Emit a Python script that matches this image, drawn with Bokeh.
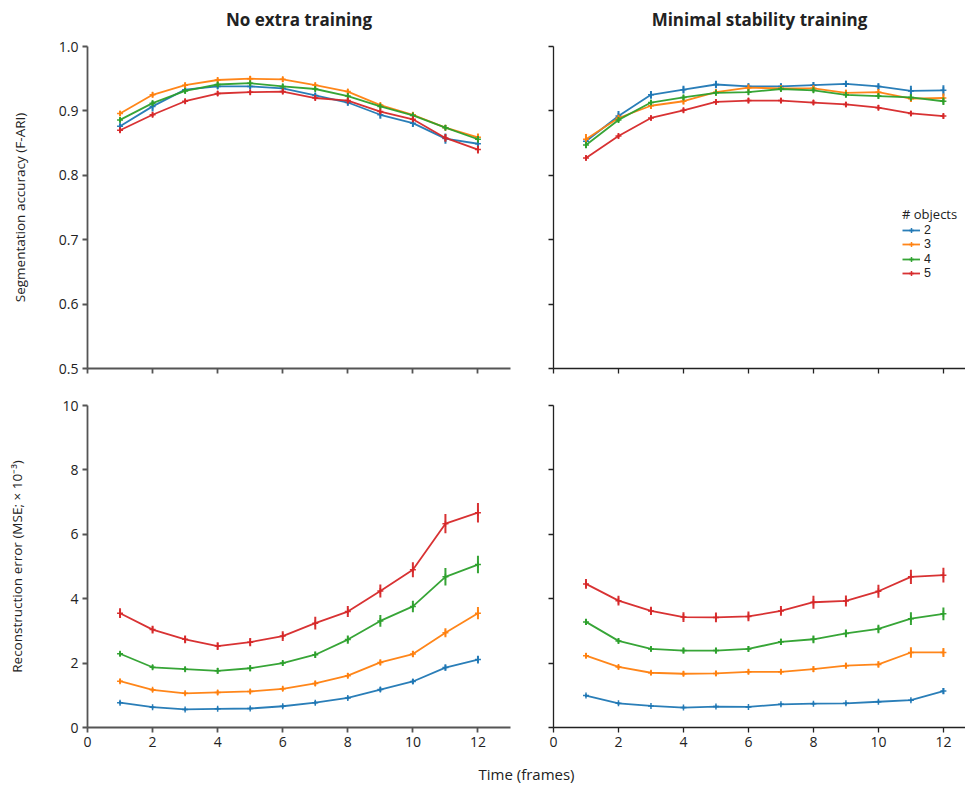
from bokeh.plotting import figure
from bokeh.models import Range1d, FixedTicker, PrintfTickFormatter, Legend, LegendItem, LinearAxis
from bokeh.layouts import column, row
from bokeh.embed import file_html
from bokeh.resources import INLINE

FONT = "Open Sans"
LEGEND_FONT = "Liberation Sans"

frames = [1, 2, 3, 4, 5, 6, 7, 8, 9, 10, 11, 12]
n_objects = ["2", "3", "4", "5"]
colors = ["#1f77b4", "#ff7f0e", "#2ca02c", "#d62728"]

panel_titles = ["No extra training", "Minimal stability training"]
ylabel_top = "Segmentation accuracy (F-ARI)"
ylabel_bottom = "Reconstruction error (MSE; \u00d7 10\u207b\u00b3)"
xlabel = "Time (frames)"
legend_title = "# objects"

x_ticks = [0, 2, 4, 6, 8, 10, 12]
ari_ticks = [0.5, 0.6, 0.7, 0.8, 0.9, 1.0]
mse_ticks = [0, 2, 4, 6, 8, 10]

# F-ARI, no extra training
ari_none_2 = [0.876, 0.907, 0.933, 0.938, 0.938, 0.935, 0.924, 0.913, 0.894, 0.881, 0.857, 0.849]
ari_none_3 = [0.896, 0.925, 0.940, 0.948, 0.950, 0.949, 0.940, 0.930, 0.909, 0.894, 0.874, 0.859]
ari_none_4 = [0.886, 0.912, 0.931, 0.941, 0.943, 0.938, 0.934, 0.923, 0.907, 0.893, 0.874, 0.856]
ari_none_5 = [0.870, 0.894, 0.915, 0.927, 0.929, 0.930, 0.920, 0.916, 0.899, 0.887, 0.858, 0.840]
ari_none_err_2 = [0.005, 0.008, 0.004, 0.004, 0.004, 0.004, 0.004, 0.005, 0.006, 0.006, 0.008, 0.006]
ari_none_err_3 = [0.004, 0.004, 0.004, 0.004, 0.004, 0.004, 0.004, 0.004, 0.004, 0.004, 0.004, 0.006]
ari_none_err_4 = [0.004, 0.004, 0.004, 0.004, 0.004, 0.004, 0.004, 0.004, 0.004, 0.004, 0.004, 0.005]
ari_none_err_5 = [0.004, 0.004, 0.004, 0.004, 0.004, 0.004, 0.004, 0.004, 0.004, 0.004, 0.006, 0.006]

# F-ARI, minimal stability training
ari_min_2 = [0.853, 0.892, 0.925, 0.933, 0.941, 0.938, 0.938, 0.940, 0.942, 0.938, 0.931, 0.932]
ari_min_3 = [0.856, 0.889, 0.908, 0.915, 0.929, 0.936, 0.935, 0.935, 0.928, 0.929, 0.919, 0.920]
ari_min_4 = [0.847, 0.886, 0.913, 0.921, 0.928, 0.929, 0.934, 0.932, 0.925, 0.923, 0.921, 0.915]
ari_min_5 = [0.827, 0.861, 0.889, 0.901, 0.914, 0.916, 0.916, 0.913, 0.910, 0.905, 0.896, 0.892]
ari_min_err_2 = [0.005, 0.008, 0.006, 0.006, 0.006, 0.005, 0.005, 0.005, 0.005, 0.005, 0.008, 0.008]
ari_min_err_3 = [0.008, 0.005, 0.005, 0.005, 0.005, 0.005, 0.005, 0.005, 0.005, 0.005, 0.005, 0.007]
ari_min_err_4 = [0.005, 0.004, 0.004, 0.004, 0.004, 0.004, 0.004, 0.004, 0.004, 0.004, 0.005, 0.006]
ari_min_err_5 = [0.004, 0.004, 0.004, 0.004, 0.004, 0.004, 0.004, 0.004, 0.004, 0.004, 0.004, 0.004]

# MSE (x 1e-3), no extra training
mse_none_2 = [0.77, 0.63, 0.56, 0.58, 0.59, 0.66, 0.77, 0.92, 1.18, 1.43, 1.86, 2.11]
mse_none_3 = [1.44, 1.17, 1.06, 1.09, 1.12, 1.20, 1.37, 1.61, 2.02, 2.28, 2.94, 3.55]
mse_none_4 = [2.29, 1.87, 1.81, 1.76, 1.84, 2.00, 2.26, 2.73, 3.31, 3.76, 4.68, 5.06]
mse_none_5 = [3.55, 3.04, 2.74, 2.53, 2.65, 2.84, 3.24, 3.60, 4.24, 4.90, 6.33, 6.67]
mse_none_err_2 = [0.05, 0.04, 0.04, 0.04, 0.04, 0.05, 0.05, 0.05, 0.07, 0.08, 0.10, 0.12]
mse_none_err_3 = [0.07, 0.06, 0.06, 0.07, 0.07, 0.07, 0.08, 0.08, 0.09, 0.10, 0.14, 0.19]
mse_none_err_4 = [0.08, 0.07, 0.08, 0.09, 0.09, 0.08, 0.10, 0.13, 0.18, 0.18, 0.27, 0.27]
mse_none_err_5 = [0.15, 0.12, 0.12, 0.12, 0.13, 0.15, 0.20, 0.17, 0.20, 0.23, 0.30, 0.30]

# MSE (x 1e-3), minimal stability training
mse_min_2 = [0.99, 0.75, 0.67, 0.62, 0.65, 0.64, 0.72, 0.74, 0.75, 0.80, 0.85, 1.13]
mse_min_3 = [2.23, 1.88, 1.70, 1.67, 1.68, 1.73, 1.73, 1.81, 1.92, 1.96, 2.33, 2.33]
mse_min_4 = [3.28, 2.69, 2.44, 2.39, 2.39, 2.44, 2.66, 2.74, 2.92, 3.06, 3.38, 3.53]
mse_min_5 = [4.46, 3.94, 3.62, 3.43, 3.42, 3.45, 3.62, 3.89, 3.93, 4.23, 4.68, 4.73]
mse_min_err_2 = [0.04, 0.04, 0.03, 0.03, 0.03, 0.03, 0.04, 0.04, 0.04, 0.04, 0.04, 0.10]
mse_min_err_3 = [0.08, 0.07, 0.07, 0.08, 0.08, 0.08, 0.08, 0.09, 0.09, 0.10, 0.16, 0.14]
mse_min_err_4 = [0.10, 0.08, 0.08, 0.09, 0.09, 0.09, 0.10, 0.12, 0.12, 0.13, 0.20, 0.20]
mse_min_err_5 = [0.15, 0.15, 0.13, 0.15, 0.15, 0.15, 0.15, 0.20, 0.17, 0.20, 0.22, 0.23]

AXIS_LEFT = "#555555"
AXIS_RIGHT = "#222222"


def make_fig(width, height, xr, yr, bl, br, bt, bb, yticks, yfmt, show_xlabels, show_ylabels, acol, aw):
    p = figure(width=width, height=height, x_range=Range1d(*xr), y_range=Range1d(*yr),
               output_backend="svg", toolbar_location=None,
               min_border_left=bl, min_border_right=br, min_border_top=bt, min_border_bottom=bb)
    p.outline_line_color = None
    p.grid.visible = False
    p.background_fill_color = "white"
    for ax in (p.xaxis[0], p.yaxis[0]):
        ax.axis_line_color = acol
        ax.axis_line_width = aw
        ax.major_tick_line_color = acol
        ax.major_tick_line_width = aw
        ax.major_tick_in = 0
        ax.major_tick_out = 5
        ax.minor_tick_line_color = None
        ax.major_label_text_font = FONT
        ax.major_label_text_font_size = "14px"
        ax.major_label_text_color = "#222222"
        ax.major_label_standoff = 4
        ax.axis_label_text_font = FONT
        ax.axis_label_text_font_style = "normal"
        ax.axis_label_text_font_size = "13.5px"
        ax.axis_label_text_color = "#222222"
    p.xaxis.ticker = FixedTicker(ticks=x_ticks)
    p.yaxis.ticker = FixedTicker(ticks=yticks)
    if yfmt:
        p.yaxis.formatter = PrintfTickFormatter(format=yfmt)
    for ax, show in ((p.xaxis[0], show_xlabels), (p.yaxis[0], show_ylabels)):
        if not show:
            ax.major_label_text_color = None
            ax.major_label_text_font_size = "1px"
            ax.major_label_standoff = 0
    return p


def label_axis(text, size, bold, standoff):
    ax = LinearAxis(ticker=FixedTicker(ticks=[]))
    ax.axis_line_color = None
    ax.major_tick_line_color = None
    ax.minor_tick_line_color = None
    ax.major_tick_out = 0
    ax.major_tick_in = 0
    ax.major_label_text_font_size = "1px"
    ax.major_label_standoff = 0
    ax.axis_label = text
    ax.axis_label_text_font = FONT
    ax.axis_label_text_font_style = "bold" if bold else "normal"
    ax.axis_label_text_font_size = size
    ax.axis_label_text_color = "#222222"
    ax.axis_label_standoff = standoff
    return ax


def draw(p, series, errors):
    rends = []
    for vals, errs, c in zip(series, errors, colors):
        lo = [v - e for v, e in zip(vals, errs)]
        hi = [v + e for v, e in zip(vals, errs)]
        ln = p.line(frames, vals, line_color=c, line_width=1.8, line_alpha=0.95)
        p.segment(x0=frames, y0=lo, x1=frames, y1=hi, line_color=c, line_width=2, line_alpha=0.95)
        mk = p.scatter(frames, vals, marker="cross", size=6, line_color=c, line_width=1.5, line_alpha=0.95)
        rends.append((ln, mk))
    return rends


LW, RW = 528, 437
TH, BH = 388, 367

tl = make_fig(LW, TH, (0, 13), (0.5, 1.0), 87, 18, 46, 20, ari_ticks, "%.1f", False, True, AXIS_LEFT, 1.8)
tr = make_fig(RW, TH, (0, 12.68), (0.5, 1.0), 25, 0, 46, 20, ari_ticks, "%.1f", False, False, AXIS_RIGHT, 1.3)
bl = make_fig(LW, BH, (0, 13), (0, 10), 87, 18, 17, 28, mse_ticks, None, True, True, AXIS_LEFT, 1.8)
br = make_fig(RW, BH, (0, 12.68), (0, 10), 25, 0, 17, 28, mse_ticks, None, True, False, AXIS_RIGHT, 1.3)

tl.yaxis.axis_label = ylabel_top
bl.yaxis.axis_label = ylabel_bottom
tl.yaxis.axis_label_standoff = 27
bl.yaxis.axis_label_standoff = 33

# panel titles as labels of tick-less axes above each top panel
tl.add_layout(label_axis(panel_titles[0], "17px", True, 16), "above")
tr.add_layout(label_axis(panel_titles[1], "17px", True, 16), "above")

draw(tl, [ari_none_2, ari_none_3, ari_none_4, ari_none_5],
     [ari_none_err_2, ari_none_err_3, ari_none_err_4, ari_none_err_5])
rends_tr = draw(tr, [ari_min_2, ari_min_3, ari_min_4, ari_min_5],
                [ari_min_err_2, ari_min_err_3, ari_min_err_4, ari_min_err_5])
draw(bl, [mse_none_2, mse_none_3, mse_none_4, mse_none_5],
     [mse_none_err_2, mse_none_err_3, mse_none_err_4, mse_none_err_5])
draw(br, [mse_min_2, mse_min_3, mse_min_4, mse_min_5],
     [mse_min_err_2, mse_min_err_3, mse_min_err_4, mse_min_err_5])

# one small legend per entry so that the rows can be packed tightly
for i, (lab, (ln, mk)) in enumerate(zip(n_objects, rends_tr)):
    lg = Legend(items=[LegendItem(label=lab, renderers=[ln, mk])], location=(349, 88 + (3 - i) * 14.5))
    if i == 0:
        lg.title = legend_title
        lg.title_text_font = FONT
        lg.title_text_font_size = "13px"
        lg.title_text_font_style = "normal"
        lg.title_text_color = "#222222"
        lg.title_standoff = 0
    lg.label_text_font = LEGEND_FONT
    lg.label_text_font_size = "12.5px"
    lg.label_text_color = "#222222"
    lg.label_height = 12
    lg.glyph_height = 12
    lg.glyph_width = 18
    lg.label_standoff = 4
    lg.spacing = 0
    lg.padding = 0
    lg.margin = 0
    lg.border_line_color = None
    lg.background_fill_alpha = 0
    tr.add_layout(lg)

# strip carrying the shared x-axis label
strip = figure(width=LW + RW, height=30, x_range=Range1d(0, 1), y_range=Range1d(0, 1),
               output_backend="svg", toolbar_location=None,
               min_border_left=87, min_border_right=0, min_border_top=0, min_border_bottom=28)
strip.outline_line_color = None
strip.grid.visible = False
strip.xaxis.visible = False
strip.yaxis.visible = False
strip.add_layout(label_axis(xlabel, "15px", False, 8), "below")

layout = column(row(tl, tr), row(bl, br), strip)

open("out.html", "w").write(file_html(layout, INLINE))
